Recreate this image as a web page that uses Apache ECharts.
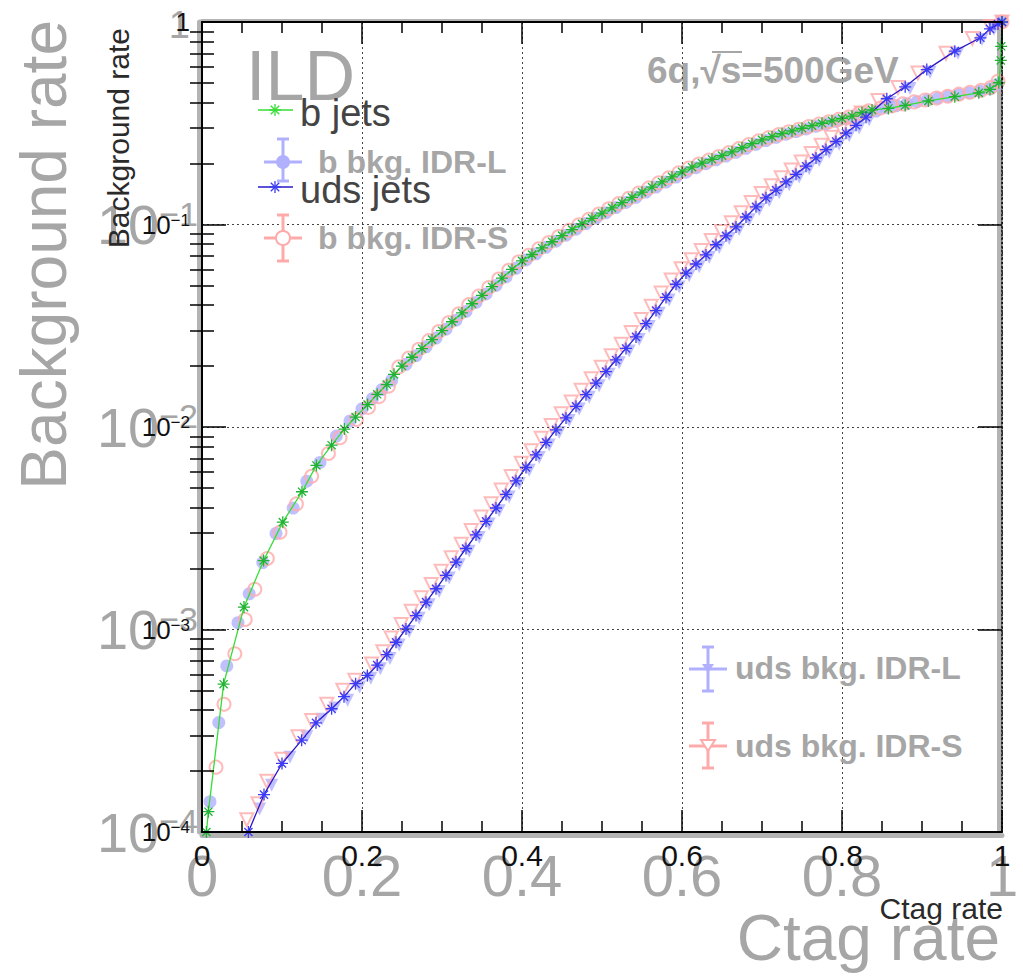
<!DOCTYPE html>
<html><head><meta charset="utf-8">
<script src="https://cdn.jsdelivr.net/npm/echarts@6/dist/echarts.min.js"></script>
<style>html,body{margin:0;padding:0;background:#fff}#c{width:1023px;height:978px}</style>
</head><body><div id="c"></div>
<script>
const FONT = '"Liberation Sans", Arial, Helvetica, sans-serif';

// ---- tick labels ----
const xTickValues = [0, 0.2, 0.4, 0.6, 0.8, 1];
const xTickLabels = ['0', '0.2', '0.4', '0.6', '0.8', '1'];
const yTickValues = [1e-4, 1e-3, 1e-2, 1e-1, 1];
const yTickBase = ['10', '10', '10', '10', '1'];
const yTickExp = ['\u22124', '\u22123', '\u22122', '\u22121', ''];
const yMinorTicks = [2e-4,3e-4,4e-4,5e-4,6e-4,7e-4,8e-4,9e-4,
  2e-3,3e-3,4e-3,5e-3,6e-3,7e-3,8e-3,9e-3,
  0.02,0.03,0.04,0.05,0.06,0.07,0.08,0.09,
  0.2,0.3,0.4,0.5,0.6,0.7,0.8,0.9];

// ---- series names ----
const seriesNames = ['b jets', 'uds jets', 'b bkg. IDR-L', 'b bkg. IDR-S', 'uds bkg. IDR-L', 'uds bkg. IDR-S'];

// ---- data: [Ctag rate, Background rate] ----
const bJets = [[0.0055,1.0e-4],[0.008,1.26e-4],[0.027,5.37e-4],[0.0525,1.29e-3],[0.077,2.19e-3],[0.101,3.39e-3],[0.125,4.79e-3],[0.143,6.46e-3],[0.162,8.13e-3],[0.178,9.77e-3],[0.192,0.0112],[0.207,0.0129],[0.219,0.0145],[0.231,0.0162],[0.24,0.0182],
[0.25,0.0200],[0.2625,0.0221],[0.275,0.0244],[0.2875,0.0270],[0.3,0.0299],[0.3125,0.0331],[0.325,0.0366],[0.3375,0.0406],[0.35,0.0447],[0.3625,0.0493],[0.375,0.0543],[0.3875,0.0600],[0.4,0.0661],[0.4125,0.0711],[0.425,0.0766],[0.4375,0.0822],[0.45,0.0881],[0.4625,0.0944],[0.475,0.1007],[0.4875,0.1072],[0.5,0.1138],[0.5125,0.1208],[0.525,0.1282],[0.5375,0.1361],[0.55,0.1445],[0.5625,0.1531],[0.575,0.1622],[0.5875,0.1718],[0.6,0.1820],[0.6125,0.1919],[0.625,0.2009],[0.6375,0.2099],[0.65,0.2188],[0.6625,0.2286],[0.675,0.2393],[0.6875,0.2506],[0.7,0.2618],[0.7125,0.2716],[0.725,0.2812],[0.7375,0.2897],[0.75,0.2985],[0.7625,0.3076],[0.775,0.3162],[0.7875,0.3251],[0.8,0.3342],[0.8125,0.3428],[0.825,0.3573],[0.8375,0.3681],
[0.858,0.3741],[0.879,0.3873],[0.908,0.4074],[0.941,0.4276],[0.971,0.4467],[0.985,0.4645],[0.996,0.5012],[0.9985,0.6457],[0.999,0.7586],[1.0,1.0]];

const udsJets = [[0.058,1.0e-4],[0.0775,1.53e-4],[0.1,2.18e-4],[0.1246,2.84e-4],[0.1425,3.46e-4],[0.162,4.06e-4],[0.1775,4.66e-4],[0.192,5.40e-4],[0.2067,5.93e-4],[0.219,6.67e-4],[0.231,7.52e-4],
[0.2425,8.65e-4],[0.255,1.007e-3],[0.2675,1.172e-3],[0.28,1.365e-3],[0.2925,1.589e-3],[0.305,1.849e-3],[0.3175,2.153e-3],[0.33,2.512e-3],[0.3425,2.931e-3],[0.355,3.42e-3],[0.3675,3.981e-3],[0.38,4.645e-3],[0.3925,5.42e-3],[0.405,6.31e-3],[0.4175,7.278e-3],[0.43,8.395e-3],[0.4425,9.683e-3],[0.455,0.01109],[0.4675,0.01265],[0.48,0.01445],[0.4925,0.01648],[0.505,0.01879],[0.5175,0.02143],[0.53,0.02443],[0.5425,0.02786],[0.555,0.03236],[0.5675,0.03758],[0.58,0.04365],[0.5925,0.0507],[0.605,0.05754],[0.6175,0.06383],[0.63,0.07079],[0.6425,0.07943],[0.655,0.0879],[0.6675,0.09727],[0.68,0.1089],[0.6925,0.1222],[0.705,0.1355],[0.7175,0.1479],[0.73,0.1622],[0.7425,0.177],[0.755,0.1941],[0.7675,0.2133],[0.78,0.2344],[0.7925,0.257],[0.805,0.2825],[0.8175,0.309],[0.83,0.3388],
[0.856,0.4178],[0.879,0.4786],[0.906,0.5821],[0.941,0.7178],[0.973,0.8356],[0.985,0.9247],[0.995,0.977],[1.0,1.0]];

const bIdrL = [[0.01,1.41e-4],[0.021,3.47e-4],[0.031,6.61e-4],[0.045,1.08e-3],[0.059,1.5e-3],[0.076,2.14e-3],[0.0925,2.98e-3],[0.114,3.98e-3],[0.131,5.4e-3],[0.1475,6.68e-3],[0.168,9.02e-3],[0.185,0.01072],[0.2,0.0123],[0.213,0.0138],[0.225,0.01531],[0.237,0.01698],
[0.255,0.0204],[0.2675,0.0225],[0.28,0.0249],[0.2925,0.0275],[0.305,0.0304],[0.3175,0.0337],[0.33,0.0372],[0.3425,0.0412],[0.355,0.0454],[0.3675,0.0500],[0.38,0.0551],[0.3925,0.0608],[0.405,0.0668],[0.4175,0.0717],[0.43,0.0771],[0.4425,0.0827],[0.455,0.0886],[0.4675,0.0948],[0.48,0.1011],[0.4925,0.1076],[0.505,0.1142],[0.5175,0.1212],[0.53,0.1285],[0.5425,0.1363],[0.555,0.1446],[0.5675,0.1531],[0.58,0.1620],[0.5925,0.1715],[0.605,0.1812],[0.6175,0.1908],[0.63,0.1998],[0.6425,0.2086],[0.655,0.2176],[0.6675,0.2272],[0.68,0.2377],[0.6925,0.2488],[0.705,0.2598],[0.7175,0.2697],[0.73,0.2792],[0.7425,0.2878],[0.755,0.2966],[0.7675,0.3057],[0.78,0.3142],[0.7925,0.3232],[0.805,0.3322],[0.8175,0.3412],[0.83,0.3520],[0.8425,0.3630],
[0.855,0.378],[0.868,0.386],[0.881,0.395],[0.894,0.404],[0.907,0.413],[0.92,0.421],[0.933,0.43],[0.946,0.438],[0.959,0.447],[0.972,0.456],[0.985,0.468],[0.994,0.49],[1.0,1.0]];

const bIdrS = [[0.0175,2.09e-4],[0.0275,4.27e-4],[0.041,7.59e-4],[0.054,1.12e-3],[0.066,1.58e-3],[0.0816,2.24e-3],[0.0975,3.02e-3],[0.118,4.17e-3],[0.137,5.71e-3],[0.158,7.4e-3],[0.1725,8.85e-3],[0.193,0.01089],[0.208,0.0125],[0.221,0.0141],[0.233,0.0159],
[0.246,0.0198],[0.2585,0.0219],[0.271,0.0242],[0.2835,0.0267],[0.296,0.0296],[0.3085,0.0328],[0.321,0.0362],[0.3335,0.0402],[0.346,0.0443],[0.3585,0.0488],[0.371,0.0538],[0.3835,0.0594],[0.396,0.0654],[0.4085,0.0704],[0.421,0.0758],[0.4335,0.0814],[0.446,0.0872],[0.4585,0.0935],[0.471,0.0997],[0.4835,0.1061],[0.496,0.1127],[0.5085,0.1196],[0.521,0.1269],[0.5335,0.1347],[0.546,0.1431],[0.5585,0.1516],[0.571,0.1606],[0.5835,0.1701],[0.596,0.1802],[0.6085,0.1900],[0.621,0.1989],[0.6335,0.2078],[0.646,0.2166],[0.6585,0.2263],[0.671,0.2369],[0.6835,0.2481],[0.696,0.2592],[0.7085,0.2689],[0.721,0.2784],[0.7335,0.2868],[0.746,0.2955],[0.7585,0.3045],[0.771,0.3130],[0.7835,0.3218],[0.796,0.3309],[0.8085,0.3394],[0.821,0.3537],[0.8335,0.3644],
[0.848,0.376],[0.862,0.385],[0.876,0.394],[0.89,0.403],[0.904,0.412],[0.918,0.421],[0.932,0.43],[0.946,0.44],[0.96,0.45],[0.974,0.46],[0.986,0.475],[0.995,0.51],[1.0,1.0]];

const udsIdrL = [[0.072,1.3e-4],[0.087,1.7e-4],[0.11,2.34e-4],[0.131,2.95e-4],[0.15,3.6e-4],[0.166,4.1e-4],[0.182,4.47e-4],[0.197,5.2e-4],[0.211,5.75e-4],[0.223,6.4e-4],[0.235,7.2e-4],
[0.2465,8.39e-4],[0.259,9.77e-4],[0.2715,1.137e-3],[0.284,1.324e-3],[0.2965,1.541e-3],[0.309,1.794e-3],[0.3215,2.088e-3],[0.334,2.437e-3],[0.3465,2.843e-3],[0.359,3.317e-3],[0.3715,3.862e-3],[0.384,4.506e-3],[0.3965,5.257e-3],[0.409,6.12e-3],[0.4215,7.06e-3],[0.434,8.14e-3],[0.4465,9.39e-3],[0.459,0.01076],[0.4715,0.01227],[0.484,0.01402],[0.4965,0.01599],[0.509,0.01823],[0.5215,0.02079],[0.534,0.0237],[0.5465,0.02702],[0.559,0.03139],[0.5715,0.03645],[0.584,0.04234],[0.5965,0.04918],[0.609,0.05581],[0.6215,0.06192],[0.634,0.06867],[0.6465,0.07705],[0.659,0.08526],[0.6715,0.09435],[0.684,0.1056],[0.6965,0.1185],[0.709,0.1314],[0.7215,0.1435],[0.734,0.1573],[0.7465,0.1717],[0.759,0.1883],[0.7715,0.2069],[0.784,0.2274],[0.7965,0.2493],[0.809,0.274],[0.8215,0.2997],[0.834,0.3286],
[0.86,0.40],[0.885,0.47],[0.91,0.565],[0.945,0.70],[0.975,0.82],[0.99,0.92],[1.0,1.0]];

const udsIdrS = [[0.056,1.15e-4],[0.07,1.38e-4],[0.081,1.78e-4],[0.0996,2.29e-4],[0.12,2.95e-4],[0.137,3.55e-4],[0.156,4.27e-4],[0.176,5.01e-4],[0.191,5.62e-4],[0.212,6.76e-4],[0.226,7.76e-4],
[0.2365,9.08e-4],[0.249,1.057e-3],[0.2615,1.231e-3],[0.274,1.433e-3],[0.2865,1.668e-3],[0.299,1.941e-3],[0.3115,2.26e-3],[0.324,2.64e-3],[0.3365,3.08e-3],[0.349,3.59e-3],[0.3615,4.18e-3],[0.374,4.88e-3],[0.3865,5.69e-3],[0.399,6.63e-3],[0.4115,7.64e-3],[0.424,8.81e-3],[0.4365,0.01017],[0.449,0.01164],[0.4615,0.01328],[0.474,0.01517],[0.4865,0.0173],[0.499,0.01973],[0.5115,0.0225],[0.524,0.02565],[0.5365,0.02925],[0.549,0.03398],[0.5615,0.03946],[0.574,0.04583],[0.5865,0.05324],[0.599,0.06042],[0.6115,0.06702],[0.624,0.07433],[0.6365,0.0834],[0.649,0.0923],[0.6615,0.1021],[0.674,0.1143],[0.6865,0.1283],[0.699,0.1423],[0.7115,0.1553],[0.724,0.1703],[0.7365,0.1859],[0.749,0.2038],[0.7615,0.224],[0.774,0.2461],[0.7865,0.2699],[0.799,0.2966],[0.8115,0.3245],[0.824,0.3557],
[0.845,0.41],[0.87,0.475],[0.895,0.56],[0.93,0.70],[0.963,0.83],[0.985,0.95],[1.0,1.0]];

// ---- colours ----
const C_GREEN_LINE = '#35dd35', C_GREEN_MK = '#22b335';
const C_BLUE_LINE = '#2a18c8', C_BLUE_MK = '#3c3cf5';
const C_LAV = '#b0b0ff', C_PINK = '#ffaaaa';
const C_GRAY = '#a6a6a6', C_TXT = '#2a2a2a';

const ASTERISK = 'path://M5,0L5,10M0,5L10,5M1.6,1.6L8.4,8.4M1.6,8.4L8.4,1.6';

function xLabel(v) {
  const i = xTickValues.findIndex(t => Math.abs(t - v) < 1e-6);
  return i < 0 ? '' : xTickLabels[i];
}
function yLabel(v) {
  const i = yTickValues.findIndex(t => Math.abs(Math.log10(t) - Math.log10(v)) < 1e-6);
  if (i < 0) return '';
  return yTickExp[i] ? '{b|' + yTickBase[i] + '}{s|' + yTickExp[i] + '}' : '{o|' + yTickBase[i] + '}';
}

const off = { show: false };
function xAx(o) {
  return Object.assign({ type: 'value', min: 0, max: 1, interval: 0.2, gridIndex: 0,
    axisLine: off, axisTick: off, minorTick: off, splitLine: off, axisLabel: off }, o);
}
function yAx(o) {
  return Object.assign({ type: 'log', logBase: 10, min: 1e-4, max: 1, gridIndex: 0,
    axisLine: off, axisTick: off, minorTick: off, splitLine: off, axisLabel: off }, o);
}

const chart = echarts.init(document.getElementById('c'), null, { renderer: 'svg' });

function asteriskEls(cx, cy, r, color) {
  const d = r * 0.7;
  return [
    [cx - r, cy, cx + r, cy], [cx, cy - r, cx, cy + r],
    [cx - d, cy - d, cx + d, cy + d], [cx - d, cy + d, cx + d, cy - d]
  ].map(s => ({ type: 'line', z: 20, shape: { x1: s[0], y1: s[1], x2: s[2], y2: s[3] }, style: { stroke: color, lineWidth: 1.3 } }));
}
function errBarEls(cx, cy, up, down, half, color) {
  return [
    { type: 'line', z: 12, shape: { x1: cx, y1: cy - up, x2: cx, y2: cy + down }, style: { stroke: color, lineWidth: 3 } },
    { type: 'line', z: 12, shape: { x1: cx - 6, y1: cy - up, x2: cx + 6, y2: cy - up }, style: { stroke: color, lineWidth: 3 } },
    { type: 'line', z: 12, shape: { x1: cx - 6, y1: cy + down, x2: cx + 6, y2: cy + down }, style: { stroke: color, lineWidth: 3 } },
    { type: 'line', z: 12, shape: { x1: cx - half, y1: cy, x2: cx + half, y2: cy }, style: { stroke: color, lineWidth: 3 } }
  ];
}
function txt(x, y, text, font, fill, extra) {
  return Object.assign({ type: 'text', x: x, y: y, z: 15,
    style: { text: text, font: font, fill: fill, align: 'left', verticalAlign: 'middle' } }, extra || {});
}

const graphics = [].concat(
  // big gray overlay titles
  [txt(44, 20, 'Background rate', '64px ' + FONT, C_GRAY, { rotation: Math.PI / 2, z: 1, style: { text: 'Background rate', font: '64px ' + FONT, fill: C_GRAY, align: 'right', verticalAlign: 'middle' } })],
  [txt(1000, 938, 'Ctag rate', '64px ' + FONT, C_GRAY, { z: 1, style: { text: 'Ctag rate', font: '64px ' + FONT, fill: C_GRAY, align: 'right', verticalAlign: 'middle' } })],
  [txt(246, 76, 'ILD', '70px ' + FONT, C_GRAY, { z: 1 })],
  [txt(647, 70, '6q,\u221As=500GeV', 'bold 37px ' + FONT, C_GRAY, { z: 1 })],
  [{ type: 'line', z: 1, shape: { x1: 712, y1: 52, x2: 742, y2: 52 }, style: { stroke: C_GRAY, lineWidth: 2 } }],
  // small black titles
  [txt(118, 28, 'Background rate', '30px ' + FONT, C_TXT, { rotation: Math.PI / 2, style: { text: 'Background rate', font: '30px ' + FONT, fill: C_TXT, align: 'right', verticalAlign: 'middle' } })],
  [txt(1003, 908, 'Ctag rate', '30px ' + FONT, C_TXT, { style: { text: 'Ctag rate', font: '30px ' + FONT, fill: C_TXT, align: 'right', verticalAlign: 'middle' } })],
  // legend: b jets
  [{ type: 'line', z: 19, shape: { x1: 258, y1: 110, x2: 293, y2: 110 }, style: { stroke: C_GREEN_LINE, lineWidth: 1.5 } }],
  asteriskEls(275, 110, 6, C_GREEN_LINE),
  [txt(300, 113, seriesNames[0], '38px ' + FONT, '#444')],
  // legend: b bkg IDR-L
  errBarEls(283, 162, 23, 19, 19, C_LAV),
  [{ type: 'circle', z: 13, shape: { cx: 283, cy: 162, r: 7 }, style: { fill: C_LAV } }],
  [txt(318, 162, seriesNames[2], 'bold 32px ' + FONT, C_GRAY, { z: 11 })],
  // legend: uds jets
  [{ type: 'line', z: 19, shape: { x1: 258, y1: 187, x2: 293, y2: 187 }, style: { stroke: C_BLUE_LINE, lineWidth: 1.5 } }],
  asteriskEls(275, 187, 6, C_BLUE_MK),
  [txt(300, 190, seriesNames[1], '38px ' + FONT, '#444')],
  // legend: b bkg IDR-S
  errBarEls(283, 238, 23, 23, 19, C_PINK),
  [{ type: 'circle', z: 13, shape: { cx: 283, cy: 238, r: 7 }, style: { fill: '#fff', stroke: C_PINK, lineWidth: 2 } }],
  [txt(318, 238, seriesNames[3], 'bold 32px ' + FONT, C_GRAY, { z: 11 })],
  // legend: uds bkg IDR-L
  errBarEls(708, 669, 22, 22, 19, C_LAV),
  [{ type: 'polygon', z: 13, shape: { points: [[702, 664], [714, 664], [708, 673]] }, style: { fill: C_LAV } }],
  [txt(735, 668, seriesNames[4], 'bold 32px ' + FONT, C_GRAY, { z: 11 })],
  // legend: uds bkg IDR-S
  errBarEls(708, 746, 23, 22, 19, C_PINK),
  [{ type: 'polygon', z: 13, shape: { points: [[701, 740], [715, 740], [708, 751]] }, style: { fill: '#fff', stroke: C_PINK, lineWidth: 2 } }],
  [txt(735, 746, seriesNames[5], 'bold 32px ' + FONT, C_GRAY, { z: 11 })]
);

const blackRich = { b: { fontSize: 26, color: '#111', fontFamily: FONT }, s: { fontSize: 17, color: '#111', fontFamily: FONT, verticalAlign: 'top' }, o: { fontSize: 26, color: '#111', fontFamily: FONT } };
const grayRich = { b: { fontSize: 56, color: C_GRAY, fontFamily: FONT }, s: { fontSize: 34, color: C_GRAY, fontFamily: FONT, verticalAlign: 'top' }, o: { fontSize: 38, color: C_GRAY, fontFamily: FONT, padding: [6, 8, 0, 0] } };

const option = {
  animation: false,
  backgroundColor: '#fff',
  grid: { left: 202, right: 21, top: 22, bottom: 146 },
  xAxis: [
    xAx({ position: 'bottom', z: 1, axisLabel: { show: true, margin: 14, fontSize: 58, color: C_GRAY, fontFamily: FONT, formatter: xLabel } }),
    xAx({ position: 'bottom', offset: 3, z: 1, axisLine: { show: true, onZero: false, lineStyle: { color: '#b4b4b4', width: 5 } } }),
    xAx({ position: 'top', offset: 1, z: 1, axisLine: { show: true, onZero: false, lineStyle: { color: '#b4b4b4', width: 4 } } }),
    xAx({ position: 'bottom', z: 5,
      axisLine: { show: true, onZero: false, lineStyle: { color: '#000', width: 2 } },
      axisTick: { show: true, inside: true, length: 22, lineStyle: { color: '#000', width: 1.5 } },
      minorTick: { show: true, splitNumber: 4, length: 11, lineStyle: { color: '#000', width: 1.5 } },
      splitLine: { show: true, lineStyle: { color: '#444', type: [2, 3], width: 1 } },
      axisLabel: { show: true, margin: 8, fontSize: 30, color: '#111', fontFamily: FONT, formatter: xLabel } }),
    xAx({ position: 'top', z: 5,
      axisLine: { show: true, onZero: false, lineStyle: { color: '#000', width: 2 } },
      axisTick: { show: true, inside: true, length: 22, lineStyle: { color: '#000', width: 1.5 } },
      minorTick: { show: true, splitNumber: 4, length: 11, lineStyle: { color: '#000', width: 1.5 } } })
  ],
  yAxis: [
    yAx({ position: 'left', z: 1, axisLabel: { show: true, margin: 4, formatter: yLabel, rich: grayRich } }),
    yAx({ position: 'left', offset: 3, z: 1, axisLine: { show: true, onZero: false, lineStyle: { color: '#b4b4b4', width: 5 } } }),
    yAx({ position: 'right', offset: -3, z: 1, axisLine: { show: true, onZero: false, lineStyle: { color: '#b4b4b4', width: 5 } } }),
    yAx({ position: 'left', z: 5,
      axisLine: { show: true, onZero: false, lineStyle: { color: '#000', width: 2 } },
      axisTick: { show: true, inside: true, length: 24, lineStyle: { color: '#000', width: 1.5 } },
      splitLine: { show: true, lineStyle: { color: '#444', type: [2, 3], width: 1 } },
      axisLabel: { show: true, margin: 12, formatter: yLabel, rich: blackRich } }),
    yAx({ position: 'left', z: 5,
      axisTick: { show: true, inside: true, length: 12, customValues: yMinorTicks, lineStyle: { color: '#000', width: 1.5 } } }),
    yAx({ position: 'right', z: 5,
      axisLine: { show: true, onZero: false, lineStyle: { color: '#000', width: 1.5, type: [2, 2] } },
      axisTick: { show: true, inside: true, length: 24, lineStyle: { color: '#000', width: 1.5 } } }),
    yAx({ position: 'right', z: 5,
      axisTick: { show: true, inside: true, length: 12, customValues: yMinorTicks, lineStyle: { color: '#000', width: 1.5 } } })
  ],
  graphic: { elements: graphics },
  series: [
    { name: seriesNames[2], type: 'scatter', xAxisIndex: 3, yAxisIndex: 3, data: bIdrL, z: 2,
      symbol: 'circle', symbolSize: 13, itemStyle: { color: C_LAV }, emphasis: { disabled: true }, silent: true },
    { name: seriesNames[4], type: 'scatter', xAxisIndex: 3, yAxisIndex: 3, data: udsIdrL, z: 2,
      symbol: 'triangle', symbolRotate: 180, symbolSize: 13, itemStyle: { color: C_LAV }, emphasis: { disabled: true }, silent: true },
    { name: seriesNames[3], type: 'scatter', xAxisIndex: 3, yAxisIndex: 3, data: bIdrS, z: 2,
      symbol: 'circle', symbolSize: 13, itemStyle: { color: 'rgba(0,0,0,0)', borderColor: C_PINK, borderWidth: 2 }, emphasis: { disabled: true }, silent: true },
    { name: seriesNames[5], type: 'scatter', xAxisIndex: 3, yAxisIndex: 3, data: udsIdrS, z: 2,
      symbol: 'triangle', symbolRotate: 180, symbolSize: 13, itemStyle: { color: 'rgba(0,0,0,0)', borderColor: C_PINK, borderWidth: 2 }, emphasis: { disabled: true }, silent: true },
    { name: seriesNames[0], type: 'line', xAxisIndex: 3, yAxisIndex: 3, data: bJets, z: 3, clip: true,
      symbol: ASTERISK, symbolSize: 12, showSymbol: true,
      lineStyle: { color: C_GREEN_LINE, width: 1.3 },
      itemStyle: { color: 'rgba(0,0,0,0)', borderColor: C_GREEN_MK, borderWidth: 1.3 }, emphasis: { disabled: true }, silent: true },
    { name: seriesNames[1], type: 'line', xAxisIndex: 3, yAxisIndex: 3, data: udsJets, z: 3, clip: true,
      symbol: ASTERISK, symbolSize: 12, showSymbol: true,
      lineStyle: { color: C_BLUE_LINE, width: 1.3 },
      itemStyle: { color: 'rgba(0,0,0,0)', borderColor: C_BLUE_MK, borderWidth: 1.3 }, emphasis: { disabled: true }, silent: true }
  ]
};
chart.setOption(option);
</script>
</body></html>
